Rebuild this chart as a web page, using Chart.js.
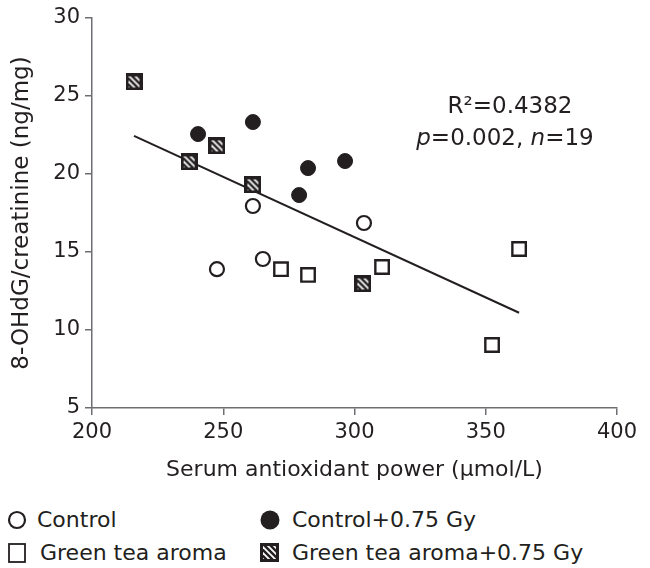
<!DOCTYPE html>
<html>
<head>
<meta charset="utf-8">
<script src="https://cdn.jsdelivr.net/npm/chart.js@4.4.1/dist/chart.umd.min.js"></script>
<style>
  html, body { margin: 0; padding: 0; background: #fff; }
  #wrap { position: relative; width: 650px; height: 568px; font-family: "DejaVu Sans", Verdana, sans-serif; color: #231f20; }
  #chartBox { position: absolute; left: 0; top: 0; width: 650px; height: 490px; }
  .leg { position: absolute; font-size: 22px; line-height: 24px; white-space: nowrap; }
  .sym { position: absolute; }
</style>
</head>
<body>
<div id="wrap">
  <div id="chartBox"><canvas id="c"></canvas></div>
  <canvas class="sym" id="s1" width="22" height="22" style="left:6px;top:509px"></canvas>
  <div class="leg" style="left:37px;top:508px">Control</div>
  <canvas class="sym" id="s2" width="22" height="22" style="left:259px;top:509px"></canvas>
  <div class="leg" style="left:292px;top:508px">Control+0.75 Gy</div>
  <canvas class="sym" id="s3" width="22" height="22" style="left:6px;top:542px"></canvas>
  <div class="leg" style="left:40px;top:541px">Green tea aroma</div>
  <canvas class="sym" id="s4" width="22" height="22" style="left:259px;top:542px"></canvas>
  <div class="leg" style="left:292px;top:541px">Green tea aroma+0.75 Gy</div>
</div>
<script>
// ---- Data ----
const controlX = [261.3, 247.6, 265.1, 303.6];
const controlY = [17.95, 13.9, 14.55, 16.86];
const controlIrrX = [240.4, 261.3, 278.9, 282.3, 296.4];
const controlIrrY = [22.56, 23.33, 18.65, 20.38, 20.83];
const gtaX = [272.0, 282.3, 310.5, 352.4, 362.7];
const gtaY = [13.9, 13.53, 14.04, 9.04, 15.19];
const gtaIrrX = [216.0, 237.0, 247.6, 261.3, 303.2];
const gtaIrrY = [25.9, 20.77, 21.8, 19.3, 12.95];
const xTicks = [200, 250, 300, 350, 400];
const yTicks = [5, 10, 15, 20, 25, 30];
const seriesNames = ["Control", "Control+0.75 Gy", "Green tea aroma", "Green tea aroma+0.75 Gy"];
const statLine1 = "R\u00b2=0.4382";
const statP = "0.002", statN = "19";

const INK = '#231f20';
const AXIS = '#6d6e71';
const FAM = '"DejaVu Sans", Verdana, sans-serif';

function pts(xs, ys) { return xs.map((x, i) => ({ x: x, y: ys[i] })); }

// least-squares regression over all points
const allX = [].concat(controlX, controlIrrX, gtaX, gtaIrrX);
const allY = [].concat(controlY, controlIrrY, gtaY, gtaIrrY);
const mx = allX.reduce((a, b) => a + b, 0) / allX.length;
const my = allY.reduce((a, b) => a + b, 0) / allY.length;
let sxy = 0, sxx = 0;
allX.forEach((x, i) => { sxy += (x - mx) * (allY[i] - my); sxx += (x - mx) * (x - mx); });
const slope = sxy / sxx, icpt = my - slope * mx;
const xmin = Math.min(...allX), xmax = Math.max(...allX);
const fitLine = [{ x: xmin, y: icpt + slope * xmin }, { x: xmax, y: icpt + slope * xmax }];

// hatched square marker
function makeHatch(size) {
  const c = document.createElement('canvas');
  c.width = size; c.height = size;
  const g = c.getContext('2d');
  g.fillStyle = INK;
  g.fillRect(0, 0, size, size);
  g.save();
  g.beginPath();
  g.rect(3, 3, size - 6, size - 6);
  g.clip();
  g.strokeStyle = '#fff';
  g.lineWidth = 1.8;
  for (let k = -size; k < size * 2; k += 6) {
    g.beginPath();
    g.moveTo(k, 0);
    g.lineTo(k + size, size);
    g.stroke();
  }
  g.restore();
  return c;
}
const hatchImg = makeHatch(17);

const statsPlugin = {
  id: 'stats',
  afterDatasetsDraw(chart) {
    const ctx = chart.ctx;
    ctx.save();
    ctx.fillStyle = INK;
    ctx.textBaseline = 'alphabetic';
    ctx.font = '23px ' + FAM;
    ctx.textAlign = 'center';
    ctx.fillText(statLine1, 510, 113);
    const parts = [
      { t: 'p', it: true }, { t: '=' + statP + ', ', it: false },
      { t: 'n', it: true }, { t: '=' + statN, it: false }
    ];
    let total = 0;
    parts.forEach(p => { ctx.font = (p.it ? 'italic ' : '') + '23px ' + FAM; p.w = ctx.measureText(p.t).width; total += p.w; });
    let x = 505 - total / 2;
    ctx.textAlign = 'left';
    parts.forEach(p => { ctx.font = (p.it ? 'italic ' : '') + '23px ' + FAM; ctx.fillText(p.t, x, 145); x += p.w; });
    ctx.restore();
  }
};

new Chart(document.getElementById('c'), {
  type: 'scatter',
  data: {
    datasets: [
      { label: seriesNames[0], data: pts(controlX, controlY), pointStyle: 'circle', pointRadius: 7, pointBorderWidth: 2.2, pointBackgroundColor: '#fff', pointBorderColor: INK },
      { label: seriesNames[1], data: pts(controlIrrX, controlIrrY), pointStyle: 'circle', pointRadius: 7.5, pointBorderWidth: 1, pointBackgroundColor: INK, pointBorderColor: INK },
      { label: seriesNames[2], data: pts(gtaX, gtaY), pointStyle: 'rect', pointRadius: 9.5, pointBorderWidth: 2.4, pointBackgroundColor: '#fff', pointBorderColor: INK },
      { label: seriesNames[3], data: pts(gtaIrrX, gtaIrrY), pointStyle: hatchImg, pointRadius: 8 },
      { type: 'line', label: 'fit', data: fitLine, borderColor: INK, borderWidth: 2, pointRadius: 0, fill: false, order: 10 }
    ]
  },
  options: {
    responsive: true,
    maintainAspectRatio: false,
    animation: false,
    devicePixelRatio: 1,
    layout: { padding: { left: 0, top: 18, right: 33, bottom: 0 } },
    plugins: { legend: { display: false }, tooltip: { enabled: false } },
    scales: {
      x: {
        type: 'linear', min: 200, max: 400,
        afterBuildTicks: s => { s.ticks = xTicks.map(v => ({ value: v })); },
        afterFit: s => { s.height = 82; },
        grid: { drawOnChartArea: false, drawTicks: true, tickLength: 7, color: AXIS, lineWidth: 1.5 },
        border: { color: AXIS, width: 1.5 },
        ticks: { color: INK, font: { size: 21, family: FAM }, padding: 5 },
        title: { display: true, text: 'Serum antioxidant power (\u00b5mol/L)', color: INK, font: { size: 22, family: FAM }, padding: { top: 0, bottom: 7 } }
      },
      y: {
        type: 'linear', min: 5, max: 30,
        afterBuildTicks: s => { s.ticks = yTicks.map(v => ({ value: v })); },
        afterFit: s => { s.width = 92; },
        grid: { drawOnChartArea: false, drawTicks: true, tickLength: 7, color: AXIS, lineWidth: 1.5 },
        border: { color: AXIS, width: 1.5 },
        ticks: { color: INK, font: { size: 21, family: FAM }, padding: 5 },
        title: { display: true, text: '8-OHdG/creatinine (ng/mg)', color: INK, font: { size: 23, family: FAM }, padding: { top: 8, bottom: 0 } }
      }
    }
  },
  plugins: [statsPlugin]
});

// legend symbols
(function () {
  let g = document.getElementById('s1').getContext('2d');
  g.strokeStyle = INK; g.lineWidth = 2.2; g.beginPath(); g.arc(11, 11, 8, 0, Math.PI * 2); g.stroke();
  g = document.getElementById('s2').getContext('2d');
  g.fillStyle = INK; g.beginPath(); g.arc(11, 11, 9.5, 0, Math.PI * 2); g.fill();
  g = document.getElementById('s3').getContext('2d');
  g.strokeStyle = INK; g.lineWidth = 1.8; g.strokeRect(3, 2, 16, 18);
  g = document.getElementById('s4').getContext('2d');
  g.drawImage(makeHatch(19), 1, 1);
})();
</script>
</body>
</html>
